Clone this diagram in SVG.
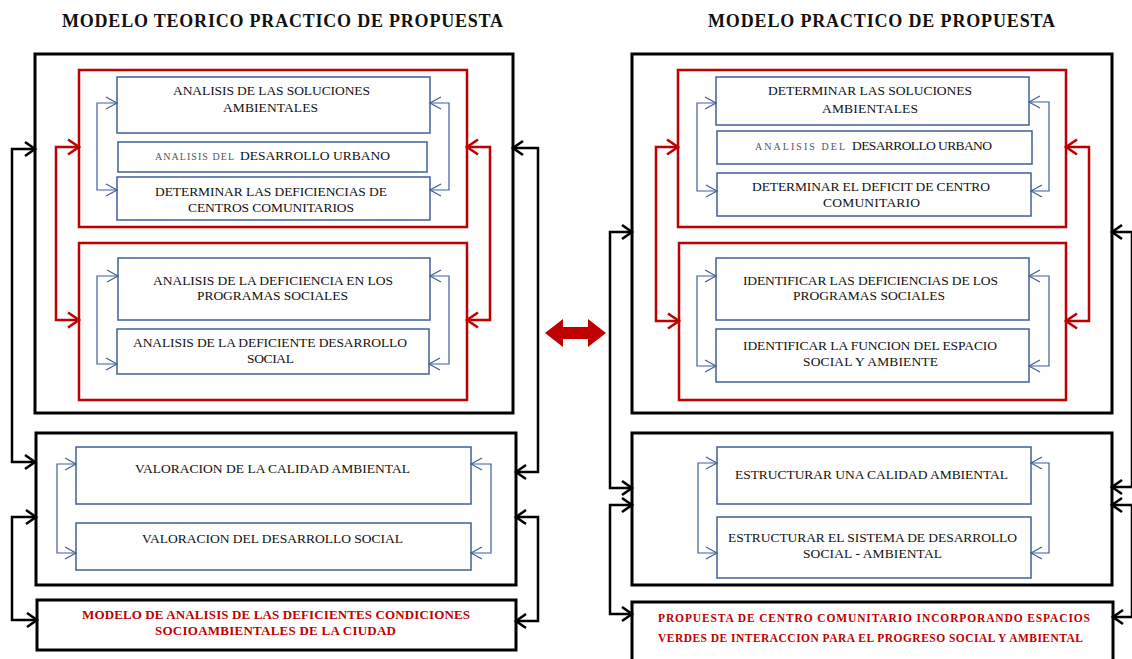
<svg xmlns="http://www.w3.org/2000/svg" width="1132" height="659" viewBox="0 0 1132 659">
<style>
.t{font-family:"Liberation Serif","Times New Roman",serif;font-size:13.5px;fill:#111}
.s{font-family:"Liberation Serif","Times New Roman",serif;font-size:10px;fill:#555}
.r{font-family:"Liberation Serif","Times New Roman",serif;font-size:13px;font-weight:bold;fill:#c00000}
.rs{font-family:"Liberation Serif","Times New Roman",serif;font-size:11.5px;font-weight:bold;fill:#c00000}
.h{font-family:"Liberation Serif","Times New Roman",serif;font-size:18px;font-weight:bold;fill:#111}
.bk{fill:#fff;stroke:#000;stroke-width:3}
.rd{fill:none;stroke:#c00000;stroke-width:2.5}
.bl{fill:#fff;stroke:#3f5f98;stroke-width:1.5}
.cb{fill:none;stroke:#000;stroke-width:2.5;marker-start:url(#ab);marker-end:url(#ab)}
.cr{fill:none;stroke:#c00000;stroke-width:2.5;marker-start:url(#ar);marker-end:url(#ar)}
.cl{fill:none;stroke:#3f5f98;stroke-width:1.2;marker-start:url(#al);marker-end:url(#al)}
</style>
<defs>
<marker id="ab" markerUnits="userSpaceOnUse" markerWidth="18" markerHeight="20" viewBox="0 0 18 20" refX="14" refY="10" orient="auto-start-reverse"><path d="M4,3 L14,10 L4,17" fill="none" stroke="#000" stroke-width="2.6"/></marker>
<marker id="ar" markerUnits="userSpaceOnUse" markerWidth="18" markerHeight="20" viewBox="0 0 18 20" refX="14" refY="10" orient="auto-start-reverse"><path d="M3,2.5 L14,10 L3,17.5" fill="none" stroke="#c00000" stroke-width="2.6"/></marker>
<marker id="al" markerUnits="userSpaceOnUse" markerWidth="16" markerHeight="16" viewBox="0 0 16 16" refX="13" refY="8" orient="auto-start-reverse"><path d="M2,2 L13,8 L2,14" fill="none" stroke="#3f5f98" stroke-width="1.2"/></marker>
</defs>
<rect width="1132" height="659" fill="#fff"/>

<text class="h" x="62" y="27" textLength="441">MODELO TEORICO PRACTICO DE PROPUESTA</text>
<text class="h" x="708" y="27" textLength="347">MODELO PRACTICO DE PROPUESTA</text>

<!-- LEFT -->
<g id="left-outer1"><rect class="bk" x="35" y="54" width="478" height="359"/></g>
<g id="left-red1"><rect class="rd" x="79" y="70" width="388" height="157"/></g>
<g id="left-red2"><rect class="rd" x="79" y="243" width="388" height="157"/></g>
<g id="left-a"><rect class="bl" x="117" y="77" width="313" height="56"/>
<text class="t" x="173" y="95" textLength="197">ANALISIS DE LAS SOLUCIONES</text>
<text class="t" x="223" y="112" textLength="95">AMBIENTALES</text></g>
<g id="left-b"><rect class="bl" x="118" y="142" width="309" height="30"/>
<text class="s" x="155" y="160" textLength="79">ANALISIS DEL</text>
<text class="t" x="240" y="160" textLength="150">DESARROLLO URBANO</text></g>
<g id="left-c"><rect class="bl" x="117" y="177" width="313" height="43"/>
<text class="t" x="155" y="196" textLength="232">DETERMINAR LAS DEFICIENCIAS DE</text>
<text class="t" x="188" y="212" textLength="166">CENTROS COMUNITARIOS</text></g>
<g id="left-d"><rect class="bl" x="118" y="258" width="312" height="62"/>
<text class="t" x="153" y="285" textLength="240">ANALISIS DE LA DEFICIENCIA EN LOS</text>
<text class="t" x="197" y="300" textLength="151">PROGRAMAS SOCIALES</text></g>
<g id="left-e"><rect class="bl" x="117" y="329" width="312" height="45"/>
<text class="t" x="133" y="347" textLength="274">ANALISIS DE LA DEFICIENTE DESARROLLO</text>
<text class="t" x="247" y="363" textLength="47">SOCIAL</text></g>
<g id="left-outer2"><rect class="bk" x="36" y="433" width="480" height="152"/></g>
<g id="left-f"><rect class="bl" x="76" y="447" width="395" height="57"/>
<text class="t" x="135" y="473" textLength="275">VALORACION DE LA CALIDAD AMBIENTAL</text></g>
<g id="left-g"><rect class="bl" x="76" y="523" width="395" height="47"/>
<text class="t" x="142" y="543" textLength="261">VALORACION DEL DESARROLLO SOCIAL</text></g>
<g id="left-result"><rect class="bk" x="37" y="600" width="479" height="50"/>
<text class="r" x="82" y="619" textLength="388">MODELO DE ANALISIS DE LAS DEFICIENTES CONDICIONES</text>
<text class="r" x="155" y="635" textLength="241">SOCIOAMBIENTALES DE LA CIUDAD</text></g>

<!-- RIGHT -->
<g id="right-outer1"><rect class="bk" x="632" y="54" width="480" height="359"/></g>
<g id="right-red1"><rect class="rd" x="678" y="70" width="388" height="157"/></g>
<g id="right-red2"><rect class="rd" x="679" y="243" width="387" height="157"/></g>
<g id="right-a"><rect class="bl" x="716" y="77" width="313" height="48"/>
<text class="t" x="768" y="95" textLength="204">DETERMINAR LAS SOLUCIONES</text>
<text class="t" x="822" y="113" textLength="96">AMBIENTALES</text></g>
<g id="right-b"><rect class="bl" x="717" y="131" width="315" height="33"/>
<text class="s" x="755" y="150" textLength="90">ANALISIS DEL</text>
<text class="t" x="852" y="150" textLength="140">DESARROLLO URBANO</text></g>
<g id="right-c"><rect class="bl" x="717" y="173" width="314" height="43"/>
<text class="t" x="752" y="191" textLength="238">DETERMINAR EL DEFICIT DE CENTRO</text>
<text class="t" x="823" y="207" textLength="97">COMUNITARIO</text></g>
<g id="right-d"><rect class="bl" x="716" y="258" width="313" height="62"/>
<text class="t" x="743" y="285" textLength="255">IDENTIFICAR LAS DEFICIENCIAS DE LOS</text>
<text class="t" x="793" y="300" textLength="152">PROGRAMAS SOCIALES</text></g>
<g id="right-e"><rect class="bl" x="716" y="329" width="313" height="53"/>
<text class="t" x="743" y="350" textLength="254">IDENTIFICAR LA FUNCION DEL ESPACIO</text>
<text class="t" x="803" y="366" textLength="135">SOCIAL Y AMBIENTE</text></g>
<g id="right-outer2"><rect class="bk" x="632" y="433" width="480" height="152"/></g>
<g id="right-f"><rect class="bl" x="717" y="447" width="314" height="57"/>
<text class="t" x="735" y="479" textLength="273">ESTRUCTURAR UNA CALIDAD AMBIENTAL</text></g>
<g id="right-g"><rect class="bl" x="717" y="517" width="314" height="61"/>
<text class="t" x="728" y="542" textLength="289">ESTRUCTURAR EL SISTEMA DE DESARROLLO</text>
<text class="t" x="803" y="558" textLength="139">SOCIAL - AMBIENTAL</text></g>
<g id="right-result"><rect class="bk" x="632" y="602" width="481" height="70"/>
<text class="rs" x="658" y="622" textLength="432">PROPUESTA DE CENTRO COMUNITARIO INCORPORANDO ESPACIOS</text>
<text class="rs" x="658" y="642" textLength="425">VERDES DE INTERACCION PARA EL PROGRESO SOCIAL Y AMBIENTAL</text></g>

<g id="connectors">
<path class="cb" d="M35,149 H12 V462 H35"/>
<path class="cb" d="M36,517 H12 V620 H37"/>
<path class="cb" d="M513,148 H538 V472 H516"/>
<path class="cb" d="M516,517 H538 V621 H516"/>
<path class="cr" d="M79,147 H56 V320 H79"/>
<path class="cr" d="M467,147 H490 V320 H467"/>
<path class="cl" d="M117,103 H97 V190 H117"/>
<path class="cl" d="M430,103 H449 V190 H430"/>
<path class="cl" d="M118,276 H97 V364 H117"/>
<path class="cl" d="M430,276 H449 V364 H429"/>
<path class="cl" d="M76,464 H57 V553 H76"/>
<path class="cl" d="M471,464 H491 V553 H471"/>

<path class="cb" d="M632,232 H610 V488 H632"/>
<path class="cb" d="M632,505 H610 V614 H632"/>
<path class="cb" d="M1112,232 H1132 V487 H1112"/>
<path class="cb" d="M1112,505 H1132 V617 H1113"/>
<path class="cr" d="M678,147 H656 V321 H679"/>
<path class="cr" d="M1066,147 H1089 V321 H1066"/>
<path class="cl" d="M716,103 H697 V191 H717"/>
<path class="cl" d="M1029,102 H1049 V191 H1031"/>
<path class="cl" d="M716,276 H697 V366 H716"/>
<path class="cl" d="M1029,276 H1049 V366 H1029"/>
<path class="cl" d="M717,463 H698 V553 H717"/>
<path class="cl" d="M1031,463 H1049 V553 H1031"/>
<polygon points="545,333 563,319 563,327 588,327 588,319 606,333 588,347 588,339 563,339 563,347" fill="#c00000"/>
</g>
</svg>
